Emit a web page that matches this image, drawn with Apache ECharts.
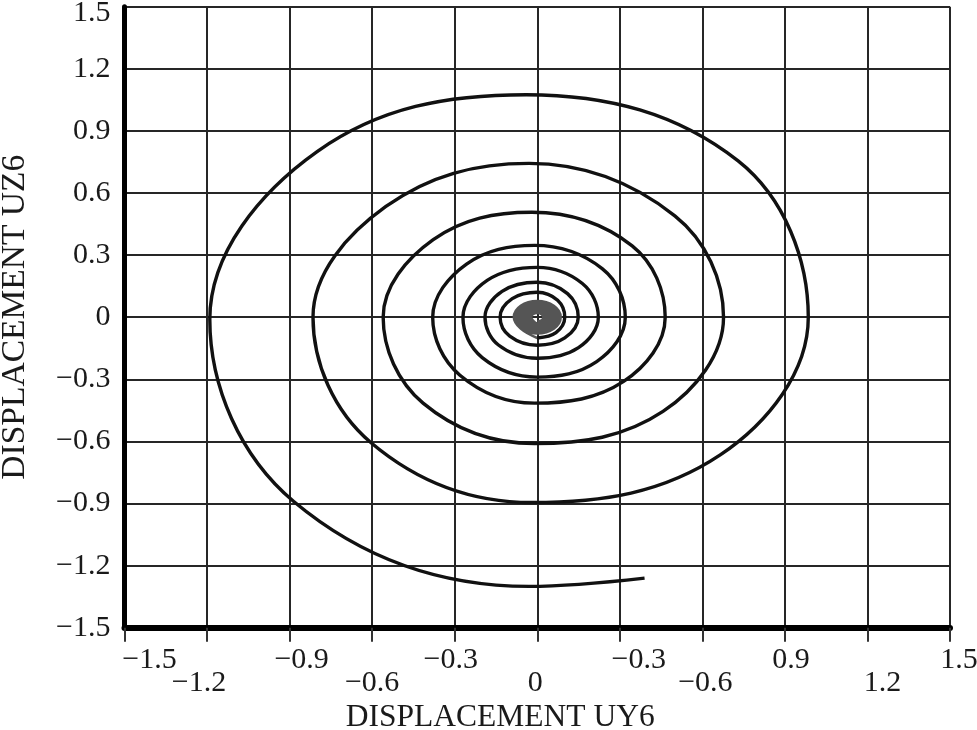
<!DOCTYPE html>
<html>
<head>
<meta charset="utf-8">
<script src="https://cdn.jsdelivr.net/npm/echarts@6/dist/echarts.min.js"></script>
<style>
html,body{margin:0;padding:0;background:#fff;}
#chart{width:977px;height:730px;}
</style>
</head>
<body>
<div id="chart"></div>
<script>
// ---- data ----
const xAxisTitle = 'DISPLACEMENT UY6';
const yAxisTitle = 'DISPLACEMENT UZ6';
const xTickLabels = ['\u22121.5','\u22121.2','\u22120.9','\u22120.6','\u22120.3','0','\u22120.3','\u22120.6','0.9','1.2','1.5'];
const yTickLabels = ['\u22121.5','\u22121.2','\u22120.9','\u22120.6','\u22120.3','0','0.3','0.6','0.9','1.2','1.5'];

// trajectory (UY6, UZ6), from the outer free end spiralling inward
const trajectory = [
  [0.39,-1.26],
  [-0.03,-1.30],[-0.885,-0.89],[-1.19,-0.01],[-0.80,0.80],[-0.04,1.075],[0.73,0.755],[0.985,0.0],[0.665,-0.665],
  [-0.02,-0.895],[-0.605,-0.605],[-0.815,0.0],[-0.55,0.535],[-0.03,0.743],[0.50,0.49],[0.677,0.0],[0.457,-0.455],
  [-0.01,-0.61],[-0.415,-0.415],[-0.56,0.0],[-0.378,0.375],[-0.02,0.507],[0.345,0.345],[0.465,0.0],[0.314,-0.31],
  [-0.01,-0.415],[-0.281,-0.28],[-0.38,0.0],[-0.257,0.257],[-0.01,0.347],[0.237,0.234],[0.32,0.0],[0.216,-0.214],
  [0.0,-0.289],[-0.20,-0.195],[-0.27,0.0],[-0.182,0.178],[0.0,0.241],[0.164,0.163],[0.222,0.0],[0.15,-0.147],
  [0.0,-0.198],[-0.141,-0.134],[-0.19,0.0],[-0.128,0.125],[0.0,0.169],[0.11,0.114],[0.149,0.0],[0.10,-0.10],
  [0.0,-0.135],[-0.10,-0.091],[-0.135,0.0],[-0.091,0.09],[0.0,0.121],[0.074,0.082],[0.10,0.0],[0.068,-0.074],
  [0.0,-0.10]
];

// dense inner core of the trajectory (appears as a grey blob)
const coreTrajectory = [
  [0.0,-0.10],
  [-0.06,-0.055],[-0.085,0.0],[-0.06,0.055],[0.0,0.078],[0.06,0.055],[0.085,0.0],[0.06,-0.055],[0.0,-0.078],
  [-0.054,-0.05],[-0.076,0.0],[-0.054,0.05],[0.0,0.07],[0.054,0.05],[0.076,0.0],[0.054,-0.05],[0.0,-0.07],
  [-0.047,-0.044],[-0.067,0.0],[-0.047,0.044],[0.0,0.062],[0.047,0.044],[0.067,0.0],[0.047,-0.044],[0.0,-0.062],
  [-0.041,-0.038],[-0.058,0.0],[-0.041,0.038],[0.0,0.054],[0.041,0.038],[0.058,0.0],[0.041,-0.038],[0.0,-0.054],
  [-0.035,-0.033],[-0.049,0.0],[-0.035,0.033],[0.0,0.046],[0.035,0.033],[0.049,0.0],[0.035,-0.033],[0.0,-0.046],
  [-0.028,-0.027],[-0.04,0.0],[-0.028,0.027],[0.0,0.038],[0.028,0.027],[0.04,0.0],[0.028,-0.027],[0.0,-0.038],
  [-0.022,-0.021],[-0.031,0.0],[-0.022,0.021],[0.0,0.03],[0.022,0.021],[0.031,0.0],[0.022,-0.021],[0.0,-0.03],
  [-0.016,-0.015],[-0.022,0.0],[-0.016,0.015],[0.0,0.021],[0.016,0.015],[0.022,0.0],[0.016,-0.015],[0.0,-0.021]
];

// ---- styling ----
const FONT = "'Liberation Serif','DejaVu Serif','Times New Roman',serif";
const TXT = '#1a1a1a';
const LABEL_SIZE = 30;
// per-label horizontal nudge (px) and row (0 upper, 1 lower) for the staggered x labels
const xLabelShift = [25,-8,12,0,-4,-2,19,3,6,15,9];
const xLabelRow   = [0,1,0,1,0,1,0,1,0,1,0];
const ROW_DROP = 23;

const rich = {};
xLabelShift.forEach(function(s, i){
  rich['l'+i] = {
    fontFamily: FONT, fontSize: LABEL_SIZE, color: TXT, lineHeight: LABEL_SIZE,
    padding: [0, s < 0 ? -2*s : 0, 0, s > 0 ? 2*s : 0]
  };
});
const yRich = {
  n: {fontFamily: FONT, fontSize: LABEL_SIZE, color: TXT, lineHeight: LABEL_SIZE},
  t: {fontFamily: FONT, fontSize: LABEL_SIZE, color: TXT, lineHeight: LABEL_SIZE, padding: [12,0,0,0]}
};

function idx(v){ return Math.round((v + 1.5) / 0.3); }
function xLabelFor(row){
  return function(v){
    const i = idx(v);
    if (xLabelRow[i] !== row) return '';
    return '{l'+i+'|'+xTickLabels[i]+'}';
  };
}

const baseX = {
  type: 'value', min: -1.5, max: 1.5, interval: 0.3, gridIndex: 0, position: 'bottom'
};

const chart = echarts.init(document.getElementById('chart'), null, {renderer:'canvas'});
chart.setOption({
  animation: false,
  backgroundColor: '#ffffff',
  grid: {left: 124.5, right: 27, top: 6.7, bottom: 102.2, containLabel: false, outerBoundsMode: 'none'},
  xAxis: [
    Object.assign({}, baseX, {
      name: xAxisTitle, nameLocation: 'middle', nameGap: 74,
      nameTextStyle: {fontFamily: FONT, fontSize: 31.5, color: TXT, padding: [0, 74, 0, 0]},
      axisLine: {show: true, onZero: false, lineStyle: {color: '#000', width: 6}},
      axisTick: {show: true, inside: false, length: 14, lineStyle: {color: '#333', width: 2}},
      axisLabel: {
        margin: 17, fontFamily: FONT, fontSize: LABEL_SIZE, color: TXT, rich: rich,
        interval: 0, hideOverlap: false, showMinLabel: true, showMaxLabel: true,
        formatter: xLabelFor(0)
      },
      splitLine: {show: true, lineStyle: {color: '#262626', width: 2}}
    }),
    Object.assign({}, baseX, {
      axisLine: {show: false, onZero: false},
      axisTick: {show: false},
      axisLabel: {
        margin: 17 + ROW_DROP, fontFamily: FONT, fontSize: LABEL_SIZE, color: TXT, rich: rich,
        interval: 0, hideOverlap: false, showMinLabel: true, showMaxLabel: true,
        formatter: xLabelFor(1)
      },
      splitLine: {show: false}
    })
  ],
  yAxis: {
    type: 'value', min: -1.5, max: 1.5, interval: 0.3,
    name: yAxisTitle, nameLocation: 'middle', nameGap: 92, nameRotate: 90,
    nameTextStyle: {fontFamily: FONT, fontSize: 33.5, color: TXT},
    axisLine: {show: true, onZero: false, lineStyle: {color: '#000', width: 5}},
    axisTick: {show: false},
    axisLabel: {
      margin: 14, fontFamily: FONT, fontSize: LABEL_SIZE, color: TXT, rich: yRich,
      interval: 0, hideOverlap: false, showMinLabel: true, showMaxLabel: true,
      formatter: function(v){ const i = idx(v); return '{' + (i === 10 ? 't' : 'n') + '|' + yTickLabels[i] + '}'; }
    },
    splitLine: {show: true, lineStyle: {color: '#262626', width: 2}}
  },
  series: [
    {
      type: 'line', xAxisIndex: 0, data: trajectory, smooth: 0.38, showSymbol: false, symbol: 'none',
      lineStyle: {color: '#111', width: 3.4}, z: 5
    },
    {
      type: 'line', xAxisIndex: 0, data: coreTrajectory, smooth: 0.38, showSymbol: false, symbol: 'none',
      lineStyle: {color: '#555', width: 2.6}, z: 4
    }
  ]
});
</script>
</body>
</html>
